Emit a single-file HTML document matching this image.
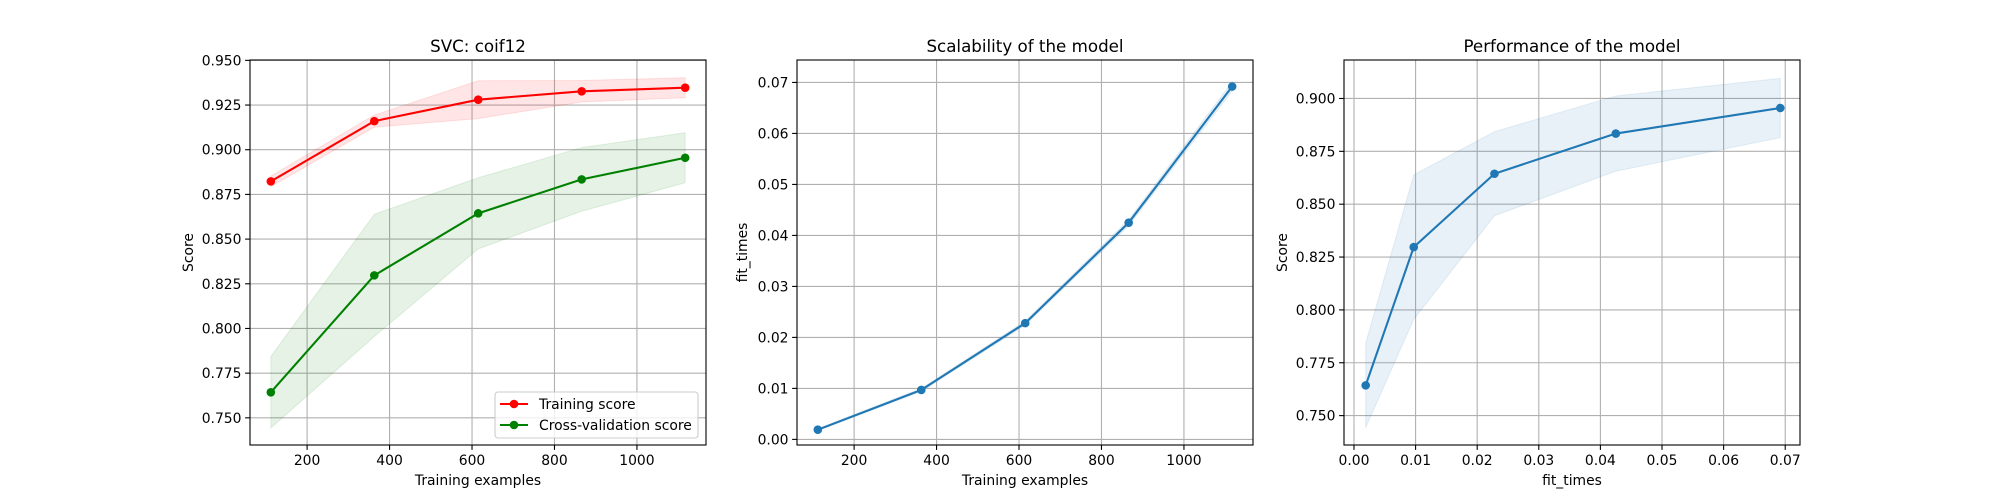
<!DOCTYPE html>
<html><head><meta charset="utf-8"><style>
html,body{margin:0;padding:0;background:#fff;}
svg{display:block;font-family:"DejaVu Sans","Liberation Sans",sans-serif;}
</style></head><body>
<svg id="fig" width="2000" height="500" viewBox="0 0 2000 500" xmlns="http://www.w3.org/2000/svg"></svg>
<script>
const trainSizes = [112, 363, 615, 866, 1117];
const trainMean = [0.8823, 0.9160, 0.9280, 0.9327, 0.9347];
const trainStd = [0.0030, 0.0034, 0.0106, 0.0060, 0.0056];
const cvMean = [0.7643, 0.8297, 0.8644, 0.8834, 0.8955];
const cvStd = [0.0200, 0.0342, 0.0199, 0.0178, 0.0140];
const fitTimes = [0.0019, 0.0097, 0.0228, 0.0425, 0.0692];
const fitStd = [0.0002, 0.0003, 0.0004, 0.0006, 0.0009];
const ticks1Y = [0.750, 0.775, 0.800, 0.825, 0.850, 0.875, 0.900, 0.925, 0.950];
const ticksSizeX = [200, 400, 600, 800, 1000];
const ticks2Y = [0.00, 0.01, 0.02, 0.03, 0.04, 0.05, 0.06, 0.07];
const ticks3Y = [0.750, 0.775, 0.800, 0.825, 0.850, 0.875, 0.900];
const ticks3X = [0.00, 0.01, 0.02, 0.03, 0.04, 0.05, 0.06, 0.07];

const NS = "http://www.w3.org/2000/svg";
const svg = document.getElementById('fig');
function mk(tag, attrs, parent) {
  const e = document.createElementNS(NS, tag);
  for (const k in attrs) e.setAttribute(k, attrs[k]);
  (parent || svg).appendChild(e);
  return e;
}
const TOP = 60, BOT = 445;

function axes(cfg) {
  const g = mk('g', {});
  
  
  const L = cfg.left, R = cfg.left + 456;
  const sx = v => L + (v - cfg.xlim[0]) / (cfg.xlim[1] - cfg.xlim[0]) * (R - L);
  const sy = v => BOT - (v - cfg.ylim[0]) / (cfg.ylim[1] - cfg.ylim[0]) * (BOT - TOP);
  const grid = mk('g', {}, g);
  
  
  cfg.xticks.forEach(t => {
    const x = sx(t);
    mk('line', {x1: x, x2: x, y1: TOP, y2: BOT, stroke: '#b0b0b0', 'stroke-width': 1.1}, grid);
    mk('line', {x1: x, x2: x, y1: BOT, y2: BOT + 4.9, stroke: '#000', 'stroke-width': 1.1}, g);
    const tx = mk('text', {x: x, y: 465, 'text-anchor': 'middle', 'font-size': 13.9, fill: '#000'}, g);
    tx.textContent = cfg.xfmt(t);
    
    
  });
  cfg.yticks.forEach(t => {
    const y = sy(t);
    mk('line', {x1: L, x2: R, y1: y, y2: y, stroke: '#b0b0b0', 'stroke-width': 1.1}, grid);
    mk('line', {x1: L - 4.9, x2: L, y1: y, y2: y, stroke: '#000', 'stroke-width': 1.1}, g);
    const ty = mk('text', {x: L - 8.5, y: y + 5, 'text-anchor': 'end', 'font-size': 13.9, fill: '#000'}, g);
    ty.textContent = cfg.yfmt(t);
    
    
  });
  cfg.series.forEach(s => {
    let up = s.x.map((v, i) => sx(v) + ',' + sy(s.y[i] + s.sd[i]));
    let dn = s.x.map((v, i) => sx(v) + ',' + sy(s.y[i] - s.sd[i])).reverse();
    const band = mk('polygon', {points: up.concat(dn).join(' '), fill: s.color, 'fill-opacity': 0.1, stroke: s.color, 'stroke-opacity': 0.1}, g);
    
    
    const line = mk('polyline', {points: s.x.map((v, i) => sx(v) + ',' + sy(s.y[i])).join(' '), fill: 'none', stroke: s.color, 'stroke-width': 2.08}, g);
    
    
    s.x.forEach((v, i) => {
      const c = mk('circle', {cx: sx(v), cy: sy(s.y[i]), r: 4.3, fill: s.color}, g);
      
      
    });
  });
  const frame = mk('rect', {x: L, y: TOP, width: R - L, height: BOT - TOP, fill: 'none', stroke: '#000', 'stroke-width': 1.1}, g);
  
  
  const ti = mk('text', {x: (L + R) / 2, y: 52, 'text-anchor': 'middle', 'font-size': 16.7, fill: '#000'}, g);
  ti.textContent = cfg.title;
  
  
  const xl = mk('text', {x: (L + R) / 2, y: 485, 'text-anchor': 'middle', 'font-size': 13.9, fill: '#000'}, g);
  xl.textContent = cfg.xlabel;
  
  
  const yx = L - cfg.ylabelOff;
  const yl = mk('text', {x: yx, y: (TOP + BOT) / 2, 'text-anchor': 'middle', 'font-size': 13.9, fill: '#000', transform: 'rotate(-90 ' + yx + ' ' + ((TOP + BOT) / 2) + ')'}, g);
  yl.textContent = cfg.ylabel;
  
  
  return g;
}
const f3 = v => v.toFixed(3), f2 = v => v.toFixed(2), f0 = v => String(v);

axes({name: 'learning-curve-panel', left: 250, xlim: [61.5, 1167.5], ylim: [0.7348, 0.9502],
  xticks: ticksSizeX, yticks: ticks1Y, xfmt: f0, yfmt: f3,
  title: 'SVC: coif12', xlabel: 'Training examples', ylabel: 'Score', ylabelOff: 57,
  series: [
    {name: 'training-score', x: trainSizes, y: trainMean, sd: trainStd, color: '#ff0000'},
    {name: 'cv-score', x: trainSizes, y: cvMean, sd: cvStd, color: '#008000'}
  ]});
axes({name: 'scalability-panel', left: 797, xlim: [61.5, 1167.5], ylim: [-0.0011, 0.0744],
  xticks: ticksSizeX, yticks: ticks2Y, xfmt: f0, yfmt: f2,
  title: 'Scalability of the model', xlabel: 'Training examples', ylabel: 'fit_times', ylabelOff: 50,
  series: [{name: 'fit-times', x: trainSizes, y: fitTimes, sd: fitStd, color: '#1f77b4'}]});
axes({name: 'performance-panel', left: 1344, xlim: [-0.00162, 0.0724], ylim: [0.7361, 0.9182],
  xticks: ticks3X, yticks: ticks3Y, xfmt: f2, yfmt: f3,
  title: 'Performance of the model', xlabel: 'fit_times', ylabel: 'Score', ylabelOff: 57,
  series: [{name: 'performance', x: fitTimes, y: cvMean, sd: cvStd, color: '#1f77b4'}]});

// legend
const lg = mk('g', {});


mk('rect', {x: 495, y: 392, width: 203, height: 46, rx: 3, fill: '#fff', 'fill-opacity': 0.8, stroke: '#cccccc', 'stroke-width': 1.1}, lg);
[['Training score', '#ff0000', 404], ['Cross-validation score', '#008000', 425]].forEach(e => {
  const it = mk('g', {}, lg);
  
  
  mk('line', {x1: 500, x2: 528, y1: e[2], y2: e[2], stroke: e[1], 'stroke-width': 2.08}, it);
  mk('circle', {cx: 514, cy: e[2], r: 4.3, fill: e[1]}, it);
  const t = mk('text', {x: 539, y: e[2] + 5, 'font-size': 13.9, fill: '#000'}, it);
  t.textContent = e[0];
});
</script>
</body></html>
